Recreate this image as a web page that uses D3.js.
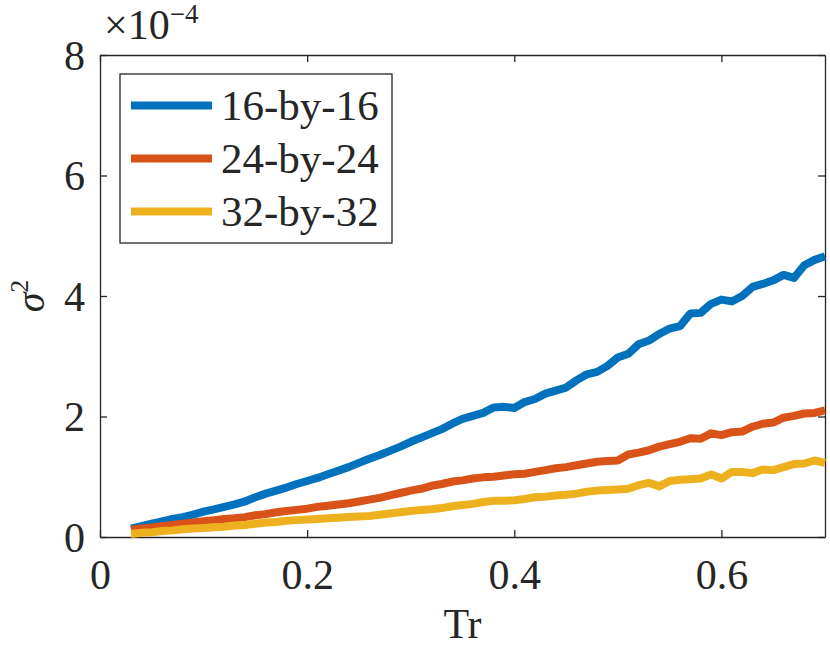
<!DOCTYPE html>
<html>
<head>
<meta charset="utf-8">
<script src="https://cdn.jsdelivr.net/npm/d3@7"></script>
<style>
  body { margin: 0; background: #fff; }
</style>
</head>
<body>
<div id="chart"></div>
<script>
// Tr values (shared x for all series)
const tr = [0.03, 0.04, 0.05, 0.06, 0.07, 0.08, 0.09, 0.10, 0.11, 0.12,
            0.13, 0.14, 0.15, 0.16, 0.17, 0.18, 0.19, 0.20, 0.21, 0.22,
            0.23, 0.24, 0.25, 0.26, 0.27, 0.28, 0.29, 0.30, 0.31, 0.32,
            0.33, 0.34, 0.35, 0.36, 0.37, 0.38, 0.39, 0.40, 0.41, 0.42,
            0.43, 0.44, 0.45, 0.46, 0.47, 0.48, 0.49, 0.50, 0.51, 0.52,
            0.53, 0.54, 0.55, 0.56, 0.57, 0.58, 0.59, 0.60, 0.61, 0.62,
            0.63, 0.64, 0.65, 0.66, 0.67, 0.68, 0.69, 0.70];

// sigma^2 in units of 1e-4
const sig16 = [0.14, 0.18, 0.22, 0.26, 0.30, 0.33, 0.37, 0.42, 0.46, 0.50,
               0.54, 0.59, 0.66, 0.72, 0.77, 0.82, 0.88, 0.93, 0.98, 1.04,
               1.10, 1.16, 1.23, 1.30, 1.36, 1.43, 1.50, 1.58, 1.65, 1.72,
               1.79, 1.88, 1.96, 2.01, 2.06, 2.15, 2.16, 2.14, 2.24, 2.29,
               2.38, 2.43, 2.48, 2.60, 2.70, 2.74, 2.84, 2.98, 3.04, 3.20,
               3.26, 3.37, 3.46, 3.50, 3.71, 3.72, 3.87, 3.94, 3.91, 4.00,
               4.15, 4.20, 4.26, 4.35, 4.30, 4.51, 4.60, 4.66];
const sig24 = [0.12, 0.14, 0.16, 0.18, 0.20, 0.22, 0.24, 0.26, 0.28, 0.30,
               0.31, 0.33, 0.36, 0.38, 0.41, 0.43, 0.45, 0.47, 0.50, 0.52,
               0.54, 0.56, 0.59, 0.62, 0.65, 0.69, 0.73, 0.77, 0.80, 0.85,
               0.88, 0.92, 0.94, 0.97, 0.99, 1.00, 1.02, 1.04, 1.05, 1.08,
               1.11, 1.14, 1.16, 1.19, 1.22, 1.25, 1.26, 1.27, 1.37, 1.40,
               1.44, 1.50, 1.54, 1.58, 1.64, 1.63, 1.72, 1.69, 1.74, 1.75,
               1.83, 1.88, 1.90, 1.98, 2.01, 2.05, 2.06, 2.10];
const sig32 = [0.05, 0.07, 0.08, 0.10, 0.11, 0.13, 0.14, 0.15, 0.16, 0.17,
               0.19, 0.20, 0.22, 0.24, 0.25, 0.27, 0.28, 0.29, 0.30, 0.31,
               0.32, 0.33, 0.34, 0.35, 0.37, 0.39, 0.41, 0.43, 0.45, 0.46,
               0.48, 0.51, 0.53, 0.55, 0.58, 0.60, 0.60, 0.61, 0.63, 0.66,
               0.67, 0.69, 0.70, 0.72, 0.75, 0.77, 0.78, 0.79, 0.80, 0.86,
               0.90, 0.84, 0.93, 0.95, 0.96, 0.97, 1.04, 0.97, 1.08, 1.08,
               1.06, 1.12, 1.11, 1.16, 1.21, 1.22, 1.27, 1.23];

const seriesNames = ["16-by-16", "24-by-24", "32-by-32"];
const seriesColors = ["#0072BD", "#D95319", "#EDB120"];
const xTicks = [0, 0.2, 0.4, 0.6];
const yTicks = [0, 2, 4, 6, 8];

const series = [sig16, sig24, sig32].map((vals, i) => ({
    name: seriesNames[i],
    color: seriesColors[i],
    values: vals.map((v, j) => ({ x: tr[j], y: v }))
}));

const FONT = "'Liberation Serif'";
const INK = "#262626";

const W = 830, H = 647;
const margin = { top: 55, right: 5, bottom: 110, left: 100 };
const width = W - margin.left - margin.right;
const height = H - margin.top - margin.bottom;

const svg = d3.select("#chart").append("svg")
    .attr("width", W)
    .attr("height", H);

const g = svg.append("g")
    .attr("transform", `translate(${margin.left},${margin.top})`);

const x = d3.scaleLinear().domain([0, 0.7]).range([0, width]);
const y = d3.scaleLinear().domain([0, 8]).range([height, 0]);

// axes, MATLAB style: ticks inside, box on
function styleAxis(sel) {
    sel.select(".domain").attr("stroke", INK).attr("stroke-width", 1.3);
    sel.selectAll(".tick line").attr("stroke", INK).attr("stroke-width", 1.3);
    sel.selectAll("text")
        .style("font-family", FONT)
        .style("font-size", "42px")
        .attr("fill", INK);
}

g.append("g")
    .attr("transform", `translate(0,${height})`)
    .call(d3.axisBottom(x).tickValues(xTicks).tickSizeInner(-7).tickSizeOuter(0)
        .tickPadding(22).tickFormat(d3.format("")))
    .call(styleAxis);

g.append("g")
    .call(d3.axisTop(x).tickValues(xTicks).tickSizeInner(-7).tickSizeOuter(0).tickFormat(""))
    .call(styleAxis);

g.append("g")
    .call(d3.axisLeft(y).tickValues(yTicks).tickSizeInner(-7).tickSizeOuter(0)
        .tickPadding(15).tickFormat(d3.format("d")))
    .call(styleAxis)
    .selectAll(".tick text").attr("dy", "0.34em");

g.append("g")
    .attr("transform", `translate(${width},0)`)
    .call(d3.axisRight(y).tickValues(yTicks).tickSizeInner(-7).tickSizeOuter(0).tickFormat(""))
    .call(styleAxis);

// lines
const line = d3.line().x(d => x(d.x)).y(d => y(d.y));

g.selectAll(".series")
    .data(series)
    .enter()
    .append("path")
    .attr("class", "series")
    .attr("fill", "none")
    .attr("stroke", d => d.color)
    .attr("stroke-width", 8)
    .attr("stroke-linejoin", "round")
    .attr("d", d => line(d.values));

// exponent label
const expo = svg.append("text")
    .attr("x", 104)
    .attr("y", 39)
    .attr("fill", INK)
    .style("font-family", FONT)
    .style("font-size", "42px");
expo.append("tspan").text("×10");
expo.append("tspan").attr("dy", -16).style("font-size", "27px").text("−4");

// axis labels
svg.append("text")
    .attr("x", margin.left + x(0.35))
    .attr("y", 638)
    .attr("text-anchor", "middle")
    .attr("fill", INK)
    .style("font-family", FONT)
    .style("font-size", "42px")
    .text("Tr");

const ylab = svg.append("text")
    .attr("transform", "translate(44,296) rotate(-90)")
    .attr("text-anchor", "middle")
    .attr("fill", INK)
    .style("font-family", FONT)
    .style("font-size", "40px");
ylab.append("tspan").style("font-style", "italic").text("σ");
ylab.append("tspan").attr("dy", -16).style("font-size", "26px").text("2");

// legend
const legend = svg.append("g").attr("transform", "translate(120,74)");
legend.append("rect")
    .attr("width", 272)
    .attr("height", 169)
    .attr("fill", "#fff")
    .attr("stroke", INK)
    .attr("stroke-width", 1.3);

const items = legend.selectAll(".item")
    .data(series)
    .enter()
    .append("g")
    .attr("transform", (d, i) => `translate(0,${31.5 + i * 53})`);

items.append("line")
    .attr("x1", 11).attr("x2", 92)
    .attr("stroke", d => d.color)
    .attr("stroke-width", 8);

items.append("text")
    .attr("x", 101)
    .attr("dy", "0.34em")
    .attr("fill", INK)
    .style("font-family", FONT)
    .style("font-size", "43px")
    .text(d => d.name);
</script>
</body>
</html>
